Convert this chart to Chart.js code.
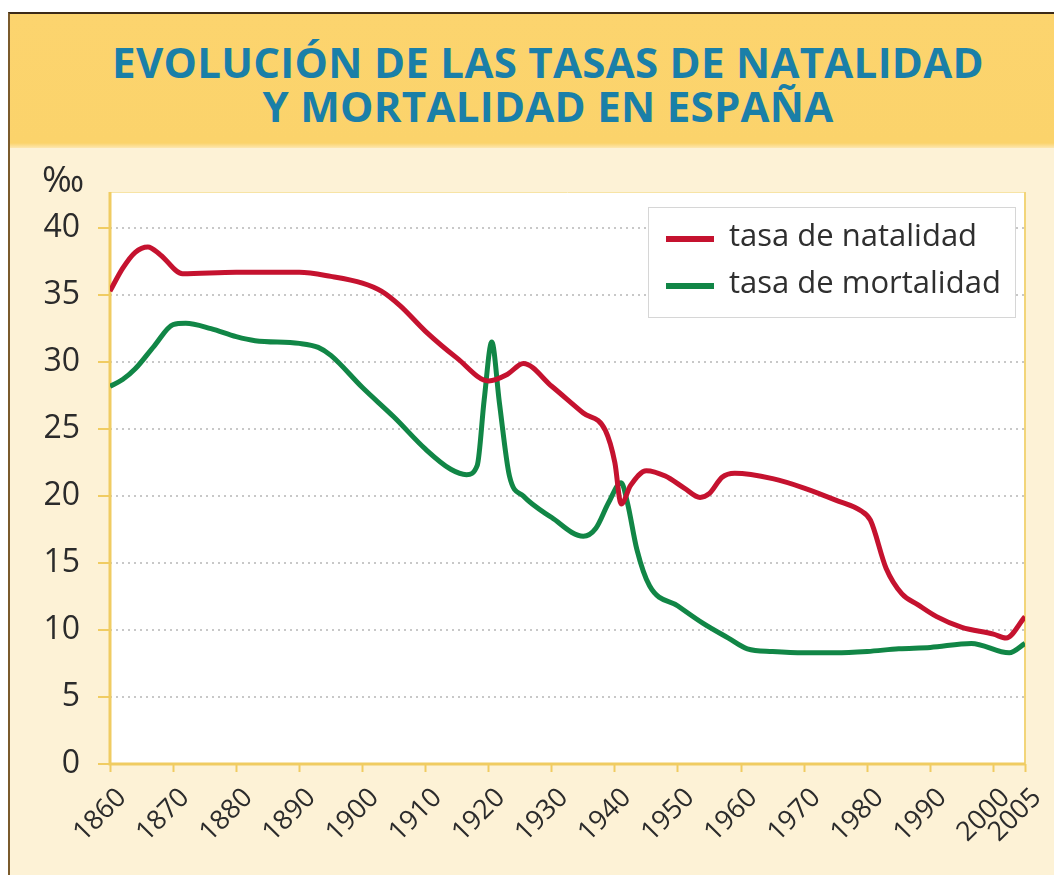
<!DOCTYPE html>
<html lang="es">
<head>
<meta charset="utf-8">
<title>Evolución de las tasas de natalidad y mortalidad en España</title>
<script src="https://cdn.jsdelivr.net/npm/chart.js@4.4.1/dist/chart.umd.min.js"></script>
<style>
  html, body { margin: 0; padding: 0; background: #fff; }
  body { width: 1054px; height: 875px; position: relative; overflow: hidden; font-family: "Open Sans", sans-serif; }
  #frame {
    position: absolute; left: 8px; top: 12px; right: 0; bottom: 0;
    border-left: 2px solid #7b5b2c; border-top: 2px solid #3b2a18;
    background: #fdf2d6;
  }
  #header {
    height: 108px; padding: 26px 0 0 32px;
    background: linear-gradient(#fcd46e 0, #fbd36b 129px, #fde7b0 134px);
    text-align: center; color: #1a7fa8;
    font-weight: 700; font-size: 42px; line-height: 44px; letter-spacing: 0.3px;
  }
  #chartBox { position: absolute; left: 0; top: 134px; width: 1044px; height: 727px; }
</style>
</head>
<body>
<div id="frame">
  <div id="header">EVOLUCIÓN DE LAS TASAS DE NATALIDAD<br>Y MORTALIDAD EN ESPAÑA</div>
  <div id="chartBox"><canvas id="tasasCanvas"></canvas></div>
</div>
<script>
// valores (‰)
const natalidadYears = [1860, 1862, 1864, 1866, 1868, 1871.5, 1880, 1890, 1895, 1900, 1903, 1906, 1910, 1915, 1920, 1923, 1925.5, 1930, 1935, 1938.5, 1940, 1941, 1942.5, 1945, 1948, 1951, 1953.5, 1955, 1957, 1959, 1965, 1970, 1975, 1979, 1980.5, 1983, 1985.5, 1988, 1991, 1995, 2000, 2002, 2005];
const natalidadValues = [35.3, 37.0, 38.2, 38.6, 38.0, 36.6, 36.7, 36.7, 36.4, 35.9, 35.3, 34.2, 32.3, 30.3, 28.6, 29.1, 29.9, 28.2, 26.2, 24.9, 22.5, 19.4, 20.8, 21.9, 21.5, 20.6, 19.9, 20.2, 21.4, 21.7, 21.3, 20.6, 19.7, 18.9, 18.2, 14.6, 12.7, 11.9, 11.0, 10.2, 9.7, 9.4, 11.0];

const mortalidadYears = [1860, 1862, 1864, 1867, 1870, 1872, 1876, 1880, 1883, 1890, 1893, 1895, 1900, 1905, 1910, 1914, 1916.5, 1918.2, 1919.3, 1920.5, 1921.7, 1923.3, 1925.5, 1930, 1935, 1937, 1939, 1941, 1942, 1943.5, 1945.5, 1950, 1954, 1958, 1961, 1965, 1970, 1975, 1980, 1985, 1990, 1996.5, 2002.5, 2005];
const mortalidadValues = [28.2, 28.7, 29.5, 31.2, 32.8, 32.9, 32.5, 31.9, 31.6, 31.4, 31.1, 30.5, 28.1, 25.9, 23.5, 22.0, 21.6, 22.3, 27.2, 31.5, 27.0, 21.5, 20.0, 18.4, 17.0, 17.6, 19.5, 21.0, 19.5, 16.0, 13.3, 11.8, 10.5, 9.4, 8.6, 8.4, 8.3, 8.3, 8.4, 8.6, 8.7, 9.0, 8.3, 9.0];

const xTickYears = [1860, 1870, 1880, 1890, 1900, 1910, 1920, 1930, 1940, 1950, 1960, 1970, 1980, 1990, 2000, 2005];
const yTickValues = [0, 5, 10, 15, 20, 25, 30, 35, 40];

const toPoints = (xs, ys) => xs.map((x, i) => ({ x: x, y: ys[i] }));

// fondo blanco del área de trazado y su marco amarillo
const plotBackground = {
  id: "plotBackground",
  beforeDraw(chart) {
    const { ctx, chartArea: a } = chart;
    ctx.save();
    ctx.fillStyle = "#ffffff";
    ctx.fillRect(a.left, a.top, a.right - a.left, a.bottom - a.top);
    ctx.restore();
  },
  beforeDatasetsDraw(chart) {
    const { ctx, chartArea: a } = chart;
    ctx.save();
    ctx.strokeStyle = "#f7e4a6";
    ctx.lineWidth = 1;
    ctx.beginPath();
    ctx.moveTo(a.left, a.top + 0.5);
    ctx.lineTo(a.right, a.top + 0.5);
    ctx.stroke();
    ctx.strokeStyle = "#f2d579";
    ctx.lineWidth = 2;
    ctx.beginPath();
    ctx.moveTo(a.right, a.top);
    ctx.lineTo(a.right, a.bottom);
    ctx.stroke();
    ctx.strokeStyle = "#f0cc62";
    ctx.lineWidth = 3;
    ctx.beginPath();
    ctx.moveTo(a.left, a.top);
    ctx.lineTo(a.left, a.bottom);
    ctx.lineTo(a.right, a.bottom);
    ctx.stroke();
    ctx.restore();
  },
};

// leyenda dentro del gráfico, arriba a la derecha
const legendBox = {
  id: "legendBox",
  afterDraw(chart) {
    const { ctx, chartArea: a } = chart;
    const w = 367, h = 110;
    const x = a.right - 10 - w;
    const y = a.top + 15;
    ctx.save();
    ctx.fillStyle = "#ffffff";
    ctx.fillRect(x, y, w, h);
    ctx.strokeStyle = "#d6d6d6";
    ctx.lineWidth = 1;
    ctx.strokeRect(x + 0.5, y + 0.5, w, h);
    ctx.font = '31px "Open Sans"';
    ctx.textBaseline = "middle";
    chart.data.datasets.forEach((ds, i) => {
      const cy = y + 32 + i * 47;
      ctx.strokeStyle = ds.borderColor;
      ctx.lineWidth = 6;
      ctx.beginPath();
      ctx.moveTo(x + 18, cy);
      ctx.lineTo(x + 66, cy);
      ctx.stroke();
      ctx.fillStyle = "#2f2f2f";
      ctx.fillText(ds.label, x + 81, cy - 2);
    });
    ctx.restore();
  },
};

// unidad del eje y
const unitLabel = {
  id: "unitLabel",
  afterDraw(chart) {
    const { ctx, chartArea: a } = chart;
    ctx.save();
    ctx.font = '36px "Open Sans"';
    ctx.fillStyle = "#2b2b2b";
    ctx.textBaseline = "middle";
    ctx.fillText("‰", a.left - 68, a.top - 10);
    ctx.restore();
  },
};

const yellow = "#f0cc62";

new Chart(document.getElementById("tasasCanvas"), {
  type: "line",
  data: {
    datasets: [
      {
        label: "tasa de natalidad",
        data: toPoints(natalidadYears, natalidadValues),
        borderColor: "#c5122f",
        borderWidth: 5,
        pointRadius: 0,
        cubicInterpolationMode: "monotone",
        fill: false,
      },
      {
        label: "tasa de mortalidad",
        data: toPoints(mortalidadYears, mortalidadValues),
        borderColor: "#118646",
        borderWidth: 5,
        pointRadius: 0,
        cubicInterpolationMode: "monotone",
        fill: false,
      },
    ],
  },
  options: {
    responsive: true,
    maintainAspectRatio: false,
    animation: false,
    layout: { padding: { left: 0, right: 29, top: 44, bottom: 0 } },
    plugins: {
      legend: { display: false },
      title: { display: false },
      tooltip: { enabled: false },
    },
    scales: {
      x: {
        type: "linear",
        min: 1860,
        max: 2005,
        afterBuildTicks: (axis) => {
          axis.ticks = xTickYears.map((v) => ({ value: v }));
        },
        afterFit: (axis) => {
          axis.height = 111;
          axis.paddingRight = 0;
        },
        grid: { drawOnChartArea: false, tickColor: yellow, tickLength: 8, tickWidth: 2 },
        border: { display: false },
        ticks: {
          autoSkip: false,
          minRotation: 45,
          maxRotation: 45,
          padding: 10,
          labelOffset: 12,
          color: "#2b2b2b",
          font: { family: "Open Sans", size: 27 },
          callback: (v) => String(v),
        },
      },
      y: {
        type: "linear",
        min: 0,
        max: 42.7,
        afterBuildTicks: (axis) => {
          axis.ticks = yTickValues.map((v) => ({ value: v }));
        },
        afterFit: (axis) => {
          axis.width = 100;
        },
        grid: {
          color: "#c8c8c8",
          lineWidth: 2,
          tickColor: yellow,
          tickLength: 12,
          tickWidth: 2,
          tickBorderDash: [],
        },
        border: { display: false, dash: [2, 4] },
        ticks: {
          padding: 18,
          color: "#2b2b2b",
          font: { family: "Open Sans", size: 32 },
          callback: (v) => String(v),
        },
      },
    },
  },
  plugins: [plotBackground, legendBox, unitLabel],
});
</script>
</body>
</html>
